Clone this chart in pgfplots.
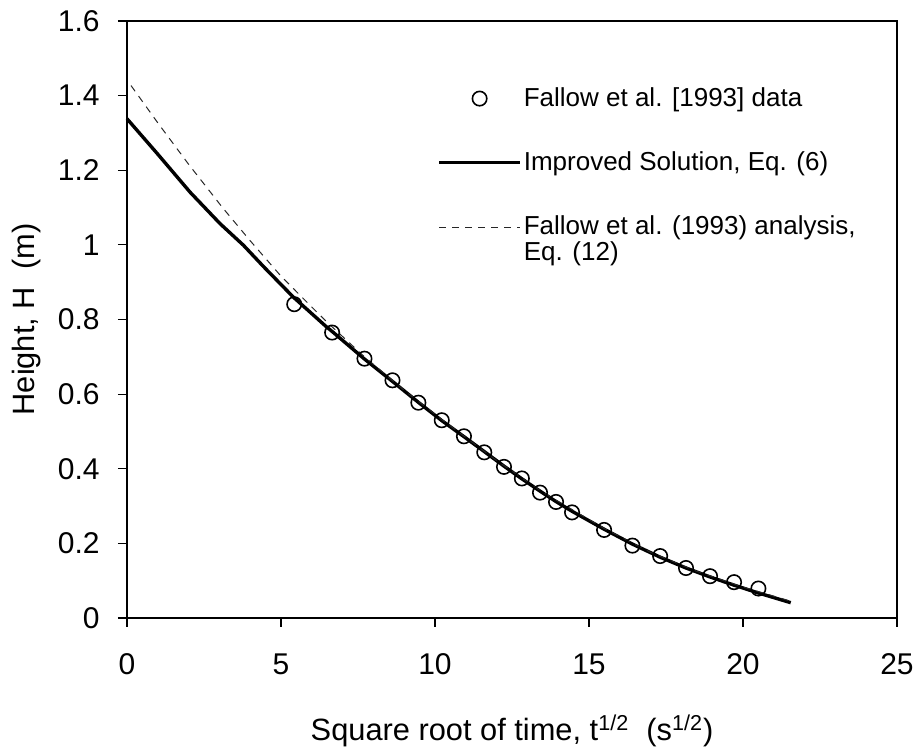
\documentclass[border=0pt]{standalone}
\usepackage{fontspec}
\setmainfont{Liberation Sans}
\usepackage{pgfplots}
\pgfplotsset{compat=1.18}
\pgfplotsset{
  linelegend/.style={legend image code/.code={\draw[mark repeat=2,mark phase=2,##1] plot coordinates {(0pt,0pt) (20.25pt,0pt) (40.5pt,0pt)};}},
  shiftedlegend/.style={legend image code/.code={\draw[##1] (0pt,6pt) -- (40.5pt,6pt);}},
}
\begin{document}
\begin{tikzpicture}
\path[use as bounding box] (-63.5pt,-65pt) rectangle (395pt,309pt);
\begin{axis}[
  at={(0,0)}, anchor=south west,
  scale only axis, width=385pt, height=298.5pt,
  xmin=0, xmax=25, ymin=0, ymax=1.6,
  xtick={0,5,...,25}, ytick={0,0.2,...,1.6},
  tick align=outside, major tick length=4.5pt,
  xtick pos=bottom, ytick pos=left,
  axis line style={line width=0.6pt},
  every tick/.style={black, line width=0.6pt},
  /pgf/number format/assume math mode=true,
  tick label style={font=\fontsize{15}{18}\selectfont, inner sep=0pt},
  xticklabel shift=13pt, yticklabel shift=9pt,
  xlabel={Square root of time, t\textsuperscript{1/2}\ \ (s\textsuperscript{1/2})},
  ylabel={Height, H\ \ (m)},
  label style={font=\fontsize{15.4}{18}\selectfont, inner sep=0pt},
  xlabel style={at={(axis description cs:0.5,-0.206)}, anchor=base},
  ylabel style={at={(axis description cs:-0.1195,0.5)}, anchor=base, rotate=0},
  legend style={draw=none, fill=none, at={(axis description cs:0.4026,0.889)}, anchor=north west,
    inner sep=0pt, row sep=21pt, column sep=1pt,
    nodes={inner sep=0pt, font=\fontsize{13}{12}\selectfont}},
  legend cell align=left,
  linelegend,
  clip=false,
]
\addplot[only marks, mark=o, mark size=3.6pt, mark options={line width=0.8pt, fill=white, draw=black}] coordinates {
(5.43,0.841) (6.66,0.765) (7.71,0.695) (8.62,0.637) (9.46,0.577) (10.22,0.530)
(10.94,0.487) (11.60,0.444) (12.24,0.405) (12.82,0.374) (13.41,0.336) (13.93,0.311)
(14.45,0.283) (15.49,0.236) (16.41,0.194) (17.31,0.166) (18.15,0.134) (18.93,0.112)
(19.71,0.096) (20.50,0.079)
};
\addlegendentry{Fallow et al. [1993] data}
\addplot[black, line width=1.7pt, line join=round] coordinates {
(0,1.338) (1.0,1.243) (2.05,1.141) (3.02,1.057) (3.78,0.999) (4.43,0.942) (5.40,0.860)
(6.48,0.780) (6.66,0.768) (7.71,0.694) (8.62,0.634) (9.46,0.578) (10.22,0.529)
(10.94,0.486) (11.60,0.446) (12.24,0.407) (12.82,0.373) (13.41,0.340) (13.93,0.312)
(14.45,0.286) (15.49,0.238) (16.41,0.198) (17.31,0.163) (18.15,0.134) (18.93,0.110)
(19.71,0.088) (20.50,0.067) (21.55,0.041)
};
\addlegendentry{Improved Solution, Eq. (6)}
\addplot[black!85, line width=0.5pt, dash pattern=on 3.5pt off 3pt, shiftedlegend] coordinates {
(0.13,1.427) (1.0,1.327) (2.0,1.216) (3.1,1.100) (4.0,1.011) (4.97,0.919) (5.7,0.858)
(6.48,0.794) (7.71,0.700) (9.0,0.610) (10.22,0.532) (12.0,0.422) (13.5,0.337)
(15.49,0.240) (17.0,0.176) (18.5,0.125) (20.0,0.083) (21.55,0.045)
};
\addlegendentry[align=left]{Fallow et al. (1993) analysis,\\Eq. (12)}
\end{axis}
\end{tikzpicture}
\end{document}
